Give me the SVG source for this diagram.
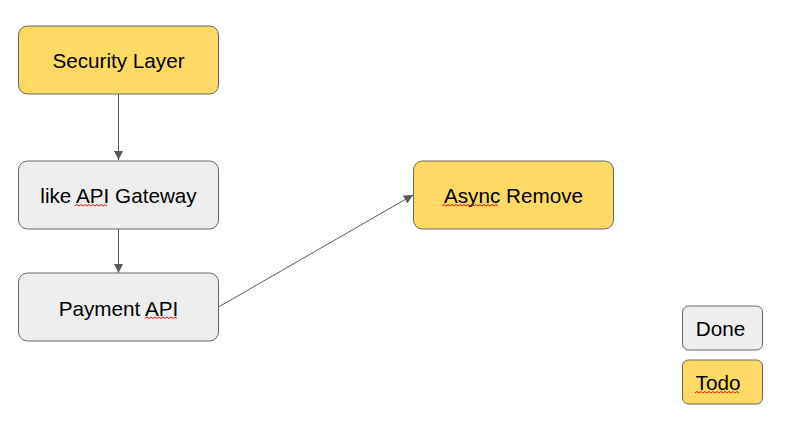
<svg xmlns="http://www.w3.org/2000/svg" width="785" height="427" viewBox="0 0 785 427">
<defs>
<style>
.box{stroke:#666666;stroke-width:1}
.todo{fill:#FFD966}
.done{fill:#EEEEEE}
.lbl{font-family:"Liberation Sans",Arial,sans-serif;font-size:20.7px;fill:#000000;text-anchor:middle}
.edge{stroke:#595959;stroke-width:1;fill:none}
.sq{stroke:#E00000;stroke-width:0.9;fill:none}
</style>
<marker id="arr" viewBox="0 0 10 10" refX="10" refY="5" markerWidth="9" markerHeight="9" markerUnits="userSpaceOnUse" orient="auto">
<path d="M0,0 L10,5 L0,10 z" fill="#595959"/>
</marker>
</defs>
<rect width="785" height="427" fill="#FFFFFF"/>
<g id="connectors">
<line class="edge" x1="118.5" y1="94" x2="118.5" y2="160" marker-end="url(#arr)"/>
<line class="edge" x1="118.5" y1="229" x2="118.5" y2="273" marker-end="url(#arr)"/>
<line class="edge" x1="218.5" y1="307" x2="413" y2="195" marker-end="url(#arr)"/>
</g>
<g id="security-layer">
<rect class="box todo" x="18.5" y="26" width="200" height="68" rx="9"/>
<text class="lbl" x="118.5" y="67.5">Security Layer</text>
</g>
<g id="api-gateway">
<rect class="box done" x="18.5" y="161" width="200" height="68" rx="9"/>
<text class="lbl" x="118.5" y="203">like API Gateway</text>
</g>
<g id="payment-api">
<rect class="box done" x="18.5" y="273" width="200" height="68" rx="9"/>
<text class="lbl" x="118.5" y="315.5">Payment API</text>
</g>
<g id="async-remove">
<rect class="box todo" x="413.5" y="161" width="200" height="68" rx="9"/>
<text class="lbl" x="513.5" y="203">Async Remove</text>
</g>
<g id="legend-done">
<rect class="box done" x="682.5" y="306" width="80" height="44" rx="6"/>
<text class="lbl" x="720.5" y="335.5">Done</text>
</g>
<g id="legend-todo">
<rect class="box todo" x="682.5" y="360" width="80" height="44" rx="6"/>
<text class="lbl" x="718" y="389.5">Todo</text>
</g>
<g id="spellcheck">
<path class="sq" d="M75,206 l2,-1.5 l2,1.5 l2,-1.5 l2,1.5 l2,-1.5 l2,1.5 l2,-1.5 l2,1.5 l2,-1.5 l2,1.5 l2,-1.5 l2,1.5 l2,-1.5 l2,1.5 l2,-1.5 l2,1.5"/>
<path class="sq" d="M145,318.5 l2,-1.5 l2,1.5 l2,-1.5 l2,1.5 l2,-1.5 l2,1.5 l2,-1.5 l2,1.5 l2,-1.5 l2,1.5 l2,-1.5 l2,1.5 l2,-1.5 l2,1.5 l2,-1.5 l2,1.5"/>
<path class="sq" d="M442,206 l2,-1.5 l2,1.5 l2,-1.5 l2,1.5 l2,-1.5 l2,1.5 l2,-1.5 l2,1.5 l2,-1.5 l2,1.5 l2,-1.5 l2,1.5 l2,-1.5 l2,1.5 l2,-1.5 l2,1.5 l2,-1.5 l2,1.5 l2,-1.5 l2,1.5 l2,-1.5 l2,1.5 l2,-1.5 l2,1.5 l2,-1.5 l2,1.5 l2,-1.5 l2,1.5"/>
<path class="sq" d="M695,393 l2,-1.5 l2,1.5 l2,-1.5 l2,1.5 l2,-1.5 l2,1.5 l2,-1.5 l2,1.5 l2,-1.5 l2,1.5 l2,-1.5 l2,1.5 l2,-1.5 l2,1.5 l2,-1.5 l2,1.5 l2,-1.5 l2,1.5 l2,-1.5 l2,1.5 l2,-1.5 l2,1.5"/>
</g>
</svg>
